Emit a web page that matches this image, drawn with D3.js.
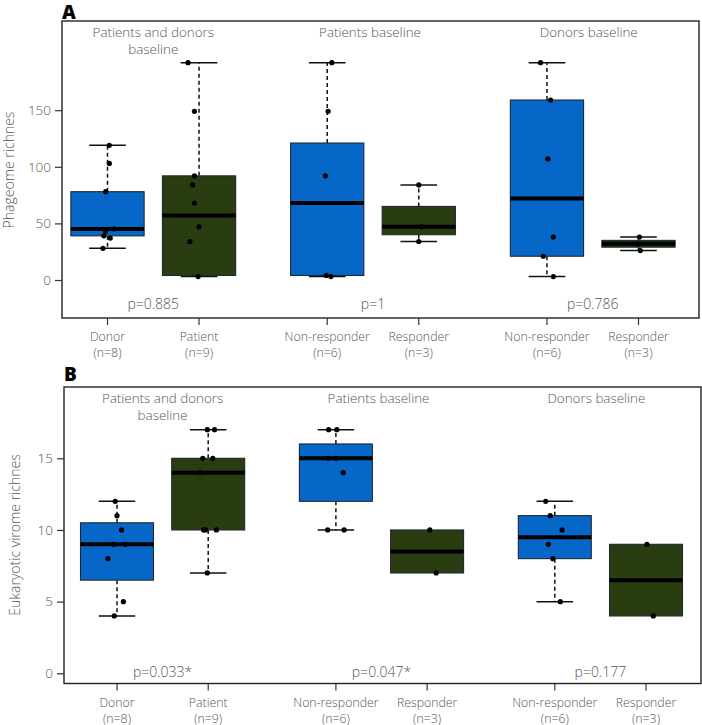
<!DOCTYPE html>
<html>
<head>
<meta charset="utf-8">
<script src="https://cdn.jsdelivr.net/npm/d3@7"></script>
<style>
  html, body { margin: 0; padding: 0; background: #fff; }
  text { font-family: "Open Sans", sans-serif; }
</style>
</head>
<body>
<svg id="chart" width="702" height="725"></svg>
<script>
// ---------------- DATA ----------------
const categories = ["Donor", "Patient", "Non-responder", "Responder", "Non-responder", "Responder"];
const nLabels = ["(n=8)", "(n=9)", "(n=6)", "(n=3)", "(n=6)", "(n=3)"];
const groupTitles = [["Patients and donors", "baseline"], ["Patients baseline"], ["Donors baseline"]];

// Panel A: Phageome richness — box statistics [low whisker, Q1, median, Q3, high whisker]
const phageStats = [
  [28, 39, 45, 78, 119],
  [3, 4, 57, 92, 192],
  [3, 4, 68, 121, 192],
  [34, 40, 47, 65, 84],
  [3, 21, 72, 159, 192],
  [26, 29, 32, 35, 38]
];
const phagePoints = [
  [119, 103, 78, 45, 43, 39, 37, 28],
  [192, 149, 92, 84, 68, 47, 34, 3],
  [192, 149, 92, 4, 3],
  [84, 47, 34],
  [192, 159, 107, 38, 21, 3],
  [38, 32, 26]
];
const phagePValues = ["p=0.885", "p=1", "p=0.786"];
const phageTicks = [0, 50, 100, 150];

// Panel B: Eukaryotic virome richness
const virStats = [
  [4, 6.5, 9, 10.5, 12],
  [7, 10, 14, 15, 17],
  [10, 12, 15, 16, 17],
  [7, 7, 8.5, 10, 10],
  [5, 8, 9.5, 11, 12],
  [4, 4, 6.5, 9, 9]
];
const virPoints = [
  [12, 11, 10, 9, 9, 8, 5, 4],
  [17, 17, 15, 15, 14, 10, 10, 10, 7],
  [17, 17, 15, 15, 14, 10, 10],
  [10, 7],
  [12, 11, 10, 9, 8, 5],
  [9, 4]
];
const virPValues = ["p=0.033*", "p=0.047*", "p=0.177"];
const virTicks = [0, 5, 10, 15];

// horizontal jitter of the points (in category units)
const phageJitter = [
  [0.02, 0.02, -0.02, 0.07, -0.02, -0.04, 0.03, -0.05],
  [-0.12, -0.05, -0.05, -0.07, -0.05, 0.0, -0.10, -0.01],
  [0.05, 0.01, -0.02, -0.01, 0.04],
  [0, 0.03, 0],
  [-0.07, 0.04, 0.01, 0.07, -0.04, 0.07],
  [0.01, -0.01, 0.02]
];
const virJitter = [
  [-0.02, 0, 0.05, -0.04, 0.09, -0.10, 0.07, -0.03],
  [-0.01, 0.07, -0.06, 0.05, -0.09, -0.05, -0.03, 0.09, -0.01],
  [-0.08, 0.01, -0.08, 0, 0.08, -0.09, 0.09],
  [0.03, 0.10],
  [-0.10, -0.05, 0.08, -0.07, -0.02, 0.06],
  [0.01, 0.08]
];

// ---------------- DRAWING ----------------
const blue = "#0767c9", green = "#2a3d10";
const textCol = "#555";
const svg = d3.select("#chart");

// category position: pairs separated by a wider gap
const catPos = i => i + 0.4 * Math.floor(i / 2);

function panel(cfg) {
  const g = svg.append("g");
  const x = d3.scaleLinear().domain([0, catPos(5)]).range(cfg.xRange);
  const y = d3.scaleLinear().domain([0, cfg.yRef]).range(cfg.yRange);
  const unit = x(1) - x(0);
  const boxW = 0.8 * unit, capW = 0.4 * unit;

  // frame
  g.append("rect")
    .attr("x", cfg.frame[0]).attr("y", cfg.frame[1])
    .attr("width", cfg.frame[2] - cfg.frame[0]).attr("height", cfg.frame[3] - cfg.frame[1])
    .attr("fill", "none").attr("stroke", "#222").attr("stroke-width", 1.4);

  // y axis
  const yAxis = d3.axisLeft(y).tickValues(cfg.ticks).tickSize(7).tickPadding(4);
  const ya = g.append("g").attr("transform", `translate(${cfg.frame[0]},0)`).call(yAxis);
  ya.select(".domain").remove();
  ya.selectAll(".tick line").attr("stroke", "#333").attr("stroke-width", 1.2);
  ya.selectAll(".tick text").attr("fill", textCol).style("font-size", "13.5px")
    .style("font-weight", "300")
    .style("font-family", "'Open Sans', sans-serif");

  // x axis
  const xa = g.append("g").attr("transform", `translate(0,${cfg.frame[3]})`);
  categories.forEach((c, i) => {
    const cx = x(catPos(i));
    xa.append("line").attr("x1", cx).attr("x2", cx).attr("y1", 0).attr("y2", 7)
      .attr("stroke", "#333").attr("stroke-width", 1.2);
    xa.append("text").attr("x", cx).attr("y", 23).attr("text-anchor", "middle")
      .attr("fill", textCol).style("font-size", "12.3px").style("font-weight", "300").text(c);
    xa.append("text").attr("x", cx).attr("y", 39).attr("text-anchor", "middle")
      .attr("fill", textCol).style("font-size", "12.3px").style("font-weight", "300").text(nLabels[i]);
  });

  // y title
  g.append("text")
    .attr("transform", `translate(${cfg.yTitleX},${cfg.yTitleY}) rotate(-90)`)
    .attr("text-anchor", "middle").attr("fill", textCol).style("font-size", "14px")
    .style("font-weight", "300")
    .text(cfg.yTitle);

  // panel letter
  g.append("text").attr("x", cfg.frame[0]).attr("y", cfg.letterY)
    .attr("fill", "#000").style("font-size", "19px").style("font-weight", "800")
    .text(cfg.letter);

  // group titles and p-values
  groupTitles.forEach((lines, k) => {
    const cx = (x(catPos(2 * k)) + x(catPos(2 * k + 1))) / 2;
    lines.forEach((t, j) => {
      g.append("text").attr("x", cx + cfg.titleShift[k]).attr("y", cfg.frame[1] + 15.5 + j * 17)
        .attr("text-anchor", "middle").attr("fill", textCol).style("font-size", "13.4px")
        .style("font-weight", "300").text(t);
    });
    g.append("text").attr("x", cx).attr("y", cfg.pY)
      .attr("text-anchor", "middle").attr("fill", textCol).style("font-size", "14px")
      .style("font-weight", "300").text(cfg.pvals[k]);
  });

  // boxes
  cfg.stats.forEach((s, i) => {
    const cx = x(catPos(i));
    const [lo, q1, med, q3, hi] = s;
    const col = i % 2 === 0 ? blue : green;
    const bg = g.append("g");
    if (hi > q3) {
      bg.append("line").attr("x1", cx).attr("x2", cx).attr("y1", y(q3)).attr("y2", y(hi))
        .attr("stroke", "#111").attr("stroke-width", 1.5).attr("stroke-dasharray", "4,3");
      bg.append("line").attr("x1", cx - capW / 2).attr("x2", cx + capW / 2)
        .attr("y1", y(hi)).attr("y2", y(hi)).attr("stroke", "#111").attr("stroke-width", 1.5);
    }
    if (lo < q1) {
      bg.append("line").attr("x1", cx).attr("x2", cx).attr("y1", y(q1)).attr("y2", y(lo))
        .attr("stroke", "#111").attr("stroke-width", 1.5).attr("stroke-dasharray", "4,3");
      bg.append("line").attr("x1", cx - capW / 2).attr("x2", cx + capW / 2)
        .attr("y1", y(lo)).attr("y2", y(lo)).attr("stroke", "#111").attr("stroke-width", 1.5);
    }
    bg.append("rect").attr("x", cx - boxW / 2).attr("y", y(q3))
      .attr("width", boxW).attr("height", Math.max(1, y(q1) - y(q3)))
      .attr("fill", col).attr("stroke", "#1d2a33").attr("stroke-width", 1.1);
    bg.append("line").attr("x1", cx - boxW / 2).attr("x2", cx + boxW / 2)
      .attr("y1", y(med)).attr("y2", y(med)).attr("stroke", "#000").attr("stroke-width", 4);
  });

  // points
  cfg.points.forEach((pts, i) => {
    g.selectAll(null).data(pts.map((v, j) => ({ v, j: cfg.jitter[i][j] || 0 })))
      .enter().append("circle")
      .attr("cx", d => x(catPos(i) + d.j))
      .attr("cy", d => y(d.v))
      .attr("r", 2.6).attr("fill", "#000");
  });
}

panel({
  letter: "A", letterY: 18.5,
  xRange: [107.5, 638.5], frame: [62, 21, 699, 318],
  yRef: 150, yRange: [280, 110.2], ticks: phageTicks,
  stats: phageStats, points: phagePoints, jitter: phageJitter,
  pvals: phagePValues, pY: 309,
  yTitle: "Phageome richnes", yTitleX: 14, yTitleY: 170,
  titleShift: [0, -3, -4]
});

panel({
  letter: "B", letterY: 381,
  xRange: [117, 646], frame: [64, 387, 701, 683.5],
  yRef: 15, yRange: [673.3, 458.3], ticks: virTicks,
  stats: virStats, points: virPoints, jitter: virJitter,
  pvals: virPValues, pY: 677,
  yTitle: "Eukaryotic virome richnes", yTitleX: 20, yTitleY: 535,
  titleShift: [0, -3, -4]
});
</script>
</body>
</html>
